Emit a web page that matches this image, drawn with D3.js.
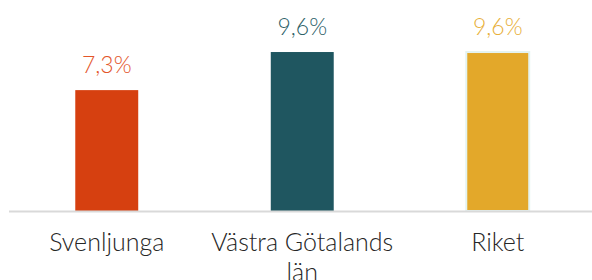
<!DOCTYPE html>
<html><head><meta charset="utf-8">
<script src="https://cdn.jsdelivr.net/npm/d3@7"></script>
<style>html,body{margin:0;padding:0;background:#fff;overflow:hidden}</style>
</head><body>
<svg id="c" width="592" height="280"></svg>
<script>
const categories = ["Svenljunga", "Västra Götalands län", "Riket"];
const labelLines = [["Svenljunga"], ["Västra Götalands", "län"], ["Riket"]];
const values = [7.3, 9.6, 9.6];
const barColors = ["#D64010", "#1F5660", "#E3A82A"];
const labelColors = ["#E3562A", "#2D6168", "#E8B03A"];

const svg = d3.select("#c");
const x = d3.scaleBand().domain(categories).range([9, 595.5]).paddingInner(0.678).paddingOuter(0.339);
const y = d3.scaleLinear().domain([0, 12]).range([211, 211 - 16.56 * 12]);
const fmt = v => d3.format(".1f")(v).replace(".", ",") + "%";

svg.selectAll("rect.bar").data(values).join("rect")
  .attr("class", "bar")
  .attr("x", (d, i) => x(categories[i]))
  .attr("width", x.bandwidth())
  .attr("y", d => y(d))
  .attr("height", d => y(0) - y(d))
  .attr("fill", (d, i) => barColors[i])
  .attr("stroke", (d, i) => i === 2 ? "#E4F3F0" : "none")
  .attr("stroke-width", 2);

svg.append("line").attr("x1", 9).attr("x2", 592).attr("y1", 211.5).attr("y2", 211.5)
  .attr("stroke", "#D9D9D9").attr("stroke-width", 2);

svg.selectAll("text.val").data(values).join("text")
  .attr("class", "val")
  .attr("x", (d, i) => x(categories[i]) + x.bandwidth() / 2)
  .attr("y", d => y(d) - 17)
  .attr("text-anchor", "middle")
  .attr("font-family", "Lato")
  .attr("font-weight", 300)
  .attr("font-size", 23)
  .attr("fill", (d, i) => labelColors[i])
  .text(d => fmt(d));

const cat = svg.selectAll("text.cat").data(categories).join("text")
  .attr("class", "cat")
  .attr("text-anchor", "middle")
  .attr("font-family", "Lato")
  .attr("font-weight", 300)
  .attr("font-size", 25)
  .attr("fill", "#262626");
cat.each(function(d, i) {
  const t = d3.select(this);
  labelLines[i].forEach((ln, j) => {
    t.append("tspan").attr("x", x(d) + x.bandwidth() / 2).attr("y", 251 + j * 30).text(ln);
  });
});
</script>
</body></html>
